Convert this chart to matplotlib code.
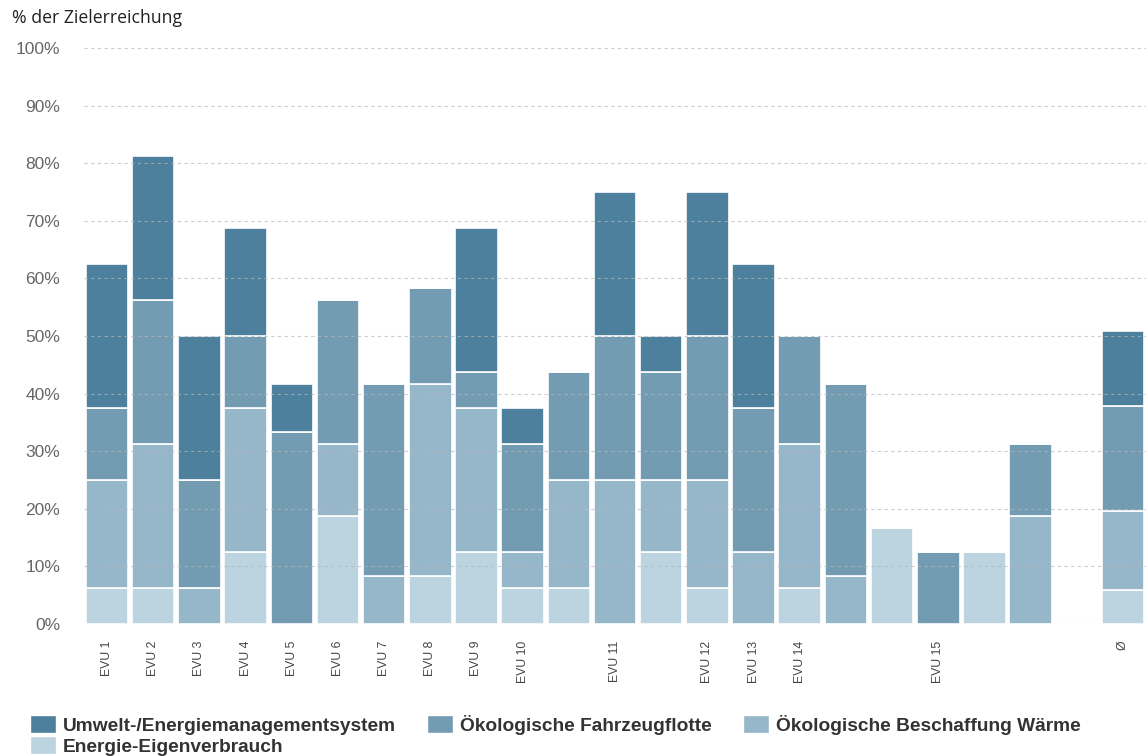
import numpy as np
import matplotlib.pyplot as plt
from matplotlib.patches import Patch

# categories (blank entries are unlabeled bars)
labels = ['EVU 1', 'EVU 2', 'EVU 3', 'EVU 4', 'EVU 5', 'EVU 6', 'EVU 7', 'EVU 8', 'EVU 9', 'EVU 10', '',
          'EVU 11', '', 'EVU 12', 'EVU 13', 'EVU 14', '', '', 'EVU 15', '', '', '', 'Ø']

# percent of target achieved, per component (bottom to top)
energie = [6.25, 6.25, 0, 12.5, 0, 18.75, 0, 8.33, 12.5, 6.25, 6.25, 0, 12.5, 6.25, 0, 6.25, 0, 16.67, 0, 12.5, 0, 0, 5.9]
waerme = [18.75, 25, 6.25, 25, 0, 12.5, 8.33, 33.33, 25, 6.25, 18.75, 25, 12.5, 18.75, 12.5, 25, 8.33, 0, 0, 0, 18.75, 0, 13.7]
fahrzeug = [12.5, 25, 18.75, 12.5, 33.33, 25, 33.33, 16.67, 6.25, 18.75, 18.75, 25, 18.75, 25, 25, 18.75, 33.33, 0, 12.5, 0, 12.5, 0, 18.2]
umwelt = [25, 25, 25, 18.75, 8.33, 0, 0, 0, 25, 6.25, 0, 25, 6.25, 25, 25, 0, 0, 0, 0, 0, 0, 0, 13.1]

names = ['Umwelt-/Energiemanagementsystem', 'Ökologische Fahrzeugflotte',
         'Ökologische Beschaffung Wärme', 'Energie-Eigenverbrauch']
colors = ['#4d809c', '#739cb2', '#96b6c9', '#bcd3e0']

fig = plt.figure(figsize=(11.47, 7.56), dpi=100)
ax = fig.add_axes([0.0732, 0.1746, 0.926, 0.762])

x = np.arange(len(labels))
bottom = np.zeros(len(labels))
for vals, col in zip([energie, waerme, fahrzeug, umwelt], colors[::-1]):
    v = np.array(vals)
    ax.bar(x, v, bottom=bottom, width=0.92, color=col, edgecolor='white', linewidth=1.2, zorder=1)
    bottom += v

ax.set_xlim(-0.5, len(labels) - 0.5)
ax.set_ylim(0, 100)
ax.set_yticks(np.arange(0, 101, 10))
ax.set_yticklabels([f'{t}%' for t in range(0, 101, 10)], fontsize=12.5, color='#666666',
                   family=['Liberation Sans', 'DejaVu Sans'])
ax.set_xticks(x)
ax.set_xticklabels(labels, rotation=90, fontsize=8.8, color='#444444', va='top',
                   family=['Liberation Sans', 'DejaVu Sans'])
ax.tick_params(axis='y', length=0, pad=17)
ax.tick_params(axis='x', length=0, pad=12)
for s in ax.spines.values():
    s.set_visible(False)
ax.set_axisbelow(False)
ax.yaxis.grid(True, linestyle=(0, (3, 3)), color='#b8b8b8', linewidth=0.8, alpha=0.7, zorder=3)
ax.xaxis.grid(False)

fig.text(0.0105, 0.976, '% der Zielerreichung', fontsize=12.7, color='#222222', va='center',
         family=['Open Sans', 'DejaVu Sans'])

# legend: column-major order so that row 1 has three entries
handles = [Patch(facecolor=c, edgecolor='white') for c in colors]
order = [0, 3, 1, 2]
fig.legend([handles[i] for i in order], [names[i] for i in order], ncol=3,
           loc='lower left', bbox_to_anchor=(0.026, 0.0), frameon=False,
           borderpad=0, borderaxespad=0,
           prop={'family': 'Liberation Sans', 'weight': 'bold', 'size': 13.8},
           labelcolor='#333333', handlelength=1.37, handleheight=1.07,
           handletextpad=0.37, columnspacing=1.6, labelspacing=0.1)

fig.savefig('out.png', dpi=100)
